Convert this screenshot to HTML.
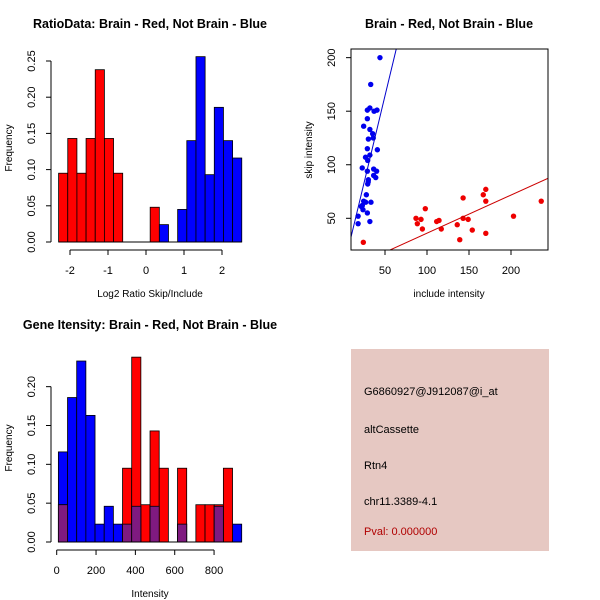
<!DOCTYPE html>
<html><head><meta charset="utf-8"><style>
html,body{margin:0;padding:0;background:#fff;}
svg{display:block;font-family:"Liberation Sans",sans-serif;}
</style></head><body>
<svg id="root" width="600" height="600" viewBox="0 0 600 600" xmlns="http://www.w3.org/2000/svg">
<rect width="600" height="600" fill="#fff"/>
<g id="p1"></g>
<g id="p2"></g>
<g id="p3"></g>
<g>
<rect x="351" y="349" width="198" height="202" fill="#e6c8c2"/>
<g font-size="11" fill="#000">
<text x="364" y="395">G6860927@J912087@i_at</text>
<text x="364" y="433">altCassette</text>
<text x="364" y="469">Rtn4</text>
<text x="364" y="505">chr11.3389-4.1</text>
<text x="364" y="535" fill="#b00000">Pval: 0.000000</text>
</g></g>
</svg>
<script>
// ---- Panel 1 data ----
const ratioBreakStart = -2.3;
const ratioBinWidth = 0.241;
const ratioRed = [0.095,0.143,0.095,0.143,0.238,0.143,0.095,0,0,0,0.048,0,0,0,0,0,0,0,0,0];
const ratioBlue = [0,0,0,0,0,0,0,0,0,0,0,0.024,0,0.045,0.14,0.256,0.093,0.186,0.14,0.116];
const ratioXTicks = [-2,-1,0,1,2];
const ratioYTicks = [0,0.05,0.10,0.15,0.20,0.25];
const ratioYLabels = ["0.00","0.05","0.10","0.15","0.20","0.25"];
// ---- Panel 2 data ----
const blueInclude = [44,33,32,29,37,40.5,29,24.6,32,35.3,30.2,36,40.9,29,32,26.8,29.4,22.9,36.5,40,29,36.5,39,30.2,29.4,27.8,24.6,33.3,21.8,27,23.8,29,18,18,32,23,30];
const blueSkip = [200,175,153,151,150,151,143,136,133,129,124,125,114,115,109,107,104,97,96,94,94,90,88,86,82,72,66,65,61,65,58,55,52,45,47,62,84];
const redInclude = [24.2,86.9,88.5,92.9,94.5,98,111.5,114.3,117,136,139,143,143,149,153.9,167,170,170,170,203,236];
const redSkip = [27.6,50,45,49,40,59,47,48,40,44,30,69,50,49,39,72,77,66,36,52,66];
const blueFit = [1.4,3.26]; // intercept, slope
const redFit = [0.5,0.356];
const scatXTicks = [50,100,150,200];
const scatYTicks = [50,100,150,200];
// ---- Panel 3 data ----
const intBreakStart = 8.5;
const intBinWidth = 46.6;
const intBlue = [0.116,0.186,0.233,0.163,0.023,0.046,0.023,0.023,0.046,0,0.046,0,0,0.023,0,0,0,0.046,0,0.023];
const intRed = [0.048,0,0,0,0,0,0,0.095,0.238,0.048,0.143,0.095,0,0.095,0,0.048,0.048,0.048,0.095,0];
const intXTicks = [0,200,400,600,800];
const intYTicks = [0,0.05,0.10,0.15,0.20];
const intYLabels = ["0.00","0.05","0.10","0.15","0.20"];

const NS="http://www.w3.org/2000/svg";
function mk(parent,tag,attrs,text){const e=document.createElementNS(NS,tag);for(const k in attrs)e.setAttribute(k,attrs[k]);if(text!==undefined)e.textContent=text;parent.appendChild(e);return e;}

function yAxis(g,x,y0,y1,ticks,labels,sy){
  const ax=mk(g,'line',{x1:x,x2:x,y1:sy(ticks[0]),y2:sy(ticks[ticks.length-1]),stroke:'#000'});
  
  
  ticks.forEach((t,i)=>{
    const y=sy(t);
    mk(g,'line',{x1:x-5,x2:x,y1:y,y2:y,stroke:'#000'});
    const tx=mk(g,'text',{x:x-16,y:y,'font-size':11,'text-anchor':'middle',transform:`rotate(-90 ${x-16} ${y})`},labels[i]);
    
    
  });
}
function xAxis(g,y,ticks,sx){
  const ax=mk(g,'line',{x1:sx(ticks[0]),x2:sx(ticks[ticks.length-1]),y1:y,y2:y,stroke:'#000'});
  
  
  ticks.forEach(t=>{
    const x=sx(t);
    mk(g,'line',{x1:x,x2:x,y1:y,y2:y+5,stroke:'#000'});
    const tx=mk(g,'text',{x:x,y:y+24,'font-size':11,'text-anchor':'middle'},String(t));
    
    
  });
}
function title(g,x,y,s){const t=mk(g,'text',{x:x,y:y,'font-size':12.5,'font-weight':'bold','text-anchor':'middle'},s);
  
  }
function label(g,x,y,s,rot){const t=mk(g,'text',{x:x,y:y,'font-size':10,'text-anchor':'middle',transform:rot?`rotate(-90 ${x} ${y})`:''},s);
  
  }
function bars(g,vals,start,w,sx,sy,fill,name){
  vals.forEach((v,i)=>{ if(v<=0) return;
    const x0=sx(start+i*w),x1=sx(start+(i+1)*w),y=sy(v),yb=sy(0);
    const r=mk(g,'rect',{x:x0,y:y,width:x1-x0,height:yb-y,fill:fill,stroke:'#000','stroke-width':0.8});
    
    
  });
}

// Panel 1
(function(){
  const g=document.getElementById('p1');
  const sx=v=>70+(v+2)*38, sy=v=>242-v*724;
  bars(g,ratioRed,ratioBreakStart,ratioBinWidth,sx,sy,'#ff0000','red-bar');
  bars(g,ratioBlue,ratioBreakStart,ratioBinWidth,sx,sy,'#0000ff','blue-bar');
  mk(g,'line',{x1:sx(ratioBreakStart),x2:sx(ratioBreakStart+20*ratioBinWidth),y1:sy(0),y2:sy(0),stroke:'#000'});
  yAxis(g,51,0,0,ratioYTicks,ratioYLabels,sy);
  xAxis(g,250,ratioXTicks,sx);
  title(g,150,28,'RatioData: Brain - Red, Not Brain - Blue');
  label(g,150,297,'Log2 Ratio Skip/Include',false);
  label(g,12,148,'Frequency',true);
})();

// Panel 2
(function(){
  const g=document.getElementById('p2');
  const sx=v=>343+v*0.84, sy=v=>218.3-(v-50)*1.071;
  const L=351,R=548,T=49,B=250;
  mk(g,'clipPath',{id:'clip2'});
  mk(g.lastChild,'rect',{x:L,y:T,width:R-L,height:B-T});
  const cg=mk(g,'g',{'clip-path':'url(#clip2)'});
  blueInclude.forEach((x,i)=>{const c=mk(cg,'circle',{cx:sx(x),cy:sy(blueSkip[i]),r:2.7,fill:'#0000ee'});
    
    });
  redInclude.forEach((x,i)=>{const c=mk(cg,'circle',{cx:sx(x),cy:sy(redSkip[i]),r:2.7,fill:'#ee0000'});
    
    });
  const bl=mk(cg,'line',{x1:sx(0),y1:sy(blueFit[0]),x2:sx(80),y2:sy(blueFit[0]+blueFit[1]*80),stroke:'#0000cc','stroke-width':1});
  
  
  const rl=mk(cg,'line',{x1:sx(0),y1:sy(redFit[0]),x2:sx(300),y2:sy(redFit[0]+redFit[1]*300),stroke:'#cc0000','stroke-width':1});
  
  
  const fr=mk(g,'rect',{x:L,y:T,width:R-L,height:B-T,fill:'none',stroke:'#000'});
  
  
  scatYTicks.forEach(t=>{const y=sy(t);mk(g,'line',{x1:L-5,x2:L,y1:y,y2:y,stroke:'#000'});
    const tx=mk(g,'text',{x:L-16,y:y,'font-size':11,'text-anchor':'middle',transform:`rotate(-90 ${L-16} ${y})`},String(t));
    
    });
  scatXTicks.forEach(t=>{const x=sx(t);mk(g,'line',{x1:x,x2:x,y1:B,y2:B+5,stroke:'#000'});
    const tx=mk(g,'text',{x:x,y:B+24,'font-size':11,'text-anchor':'middle'},String(t));
    
    });
  title(g,449,28,'Brain - Red, Not Brain - Blue');
  label(g,449,297,'include intensity',false);
  label(g,312,150,'skip intensity',true);
})();

// Panel 3
(function(){
  const g=document.getElementById('p3');
  const sx=v=>56.7+v*0.1967, sy=v=>542-v*776.7;
  const overlap=intBlue.map((b,i)=>Math.min(b,intRed[i]));
  bars(g,intBlue,intBreakStart,intBinWidth,sx,sy,'#0000ff','blue-bar');
  bars(g,intRed,intBreakStart,intBinWidth,sx,sy,'#ff0000','red-bar');
  bars(g,overlap,intBreakStart,intBinWidth,sx,sy,'#7f1a80','overlap-bar');
  mk(g,'line',{x1:sx(intBreakStart),x2:sx(intBreakStart+20*intBinWidth),y1:sy(0),y2:sy(0),stroke:'#000'});
  yAxis(g,51,0,0,intYTicks,intYLabels,sy);
  xAxis(g,550,intXTicks,sx);
  title(g,150,329,'Gene Itensity: Brain - Red, Not Brain - Blue');
  label(g,150,597,'Intensity',false);
  label(g,12,448,'Frequency',true);
})();
</script>
</body></html>
